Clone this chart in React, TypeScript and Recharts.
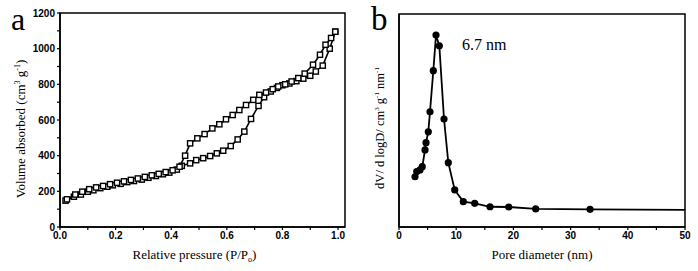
import React from "react";
import {
	LineChart,
	Line,
	XAxis,
	YAxis,
	ReferenceArea,
	Label,
} from "recharts";

// (a) N2 isotherm, adsorption and desorption branches
const adsP = [0.02, 0.05, 0.075, 0.1, 0.12, 0.145, 0.17, 0.19, 0.218, 0.242, 0.266, 0.294, 0.318, 0.345, 0.37, 0.393, 0.42, 0.438, 0.468, 0.49, 0.515, 0.54, 0.564, 0.587, 0.614, 0.639, 0.663, 0.687, 0.714, 0.734, 0.758, 0.78, 0.8, 0.825, 0.85, 0.875, 0.9, 0.92, 0.945, 0.97, 0.99];
const adsV = [148, 170, 182, 198, 206, 218, 226, 234, 242, 252, 258, 266, 276, 286, 296, 305, 322, 343, 357, 375, 386, 398, 413, 428, 454, 491, 535, 606, 679, 728, 760, 780, 795, 805, 818, 832, 848, 872, 905, 1000, 1095];
const desP = [0.99, 0.975, 0.955, 0.935, 0.91, 0.88, 0.857, 0.833, 0.81, 0.785, 0.765, 0.741, 0.717, 0.695, 0.669, 0.645, 0.621, 0.597, 0.573, 0.548, 0.52, 0.494, 0.468, 0.45, 0.43, 0.405, 0.38, 0.355, 0.33, 0.305, 0.28, 0.255, 0.23, 0.205, 0.18, 0.155, 0.13, 0.105, 0.08, 0.055, 0.025];
const desV = [1095, 1060, 1022, 966, 910, 860, 835, 816, 800, 788, 773, 754, 741, 713, 684, 656, 628, 604, 576, 553, 521, 497, 469, 400, 338, 318, 308, 298, 290, 281, 272, 264, 256, 248, 240, 230, 222, 212, 198, 182, 155];

// (b) pore size distribution
const poreD = [2.8, 3.1, 3.67, 4.07, 4.55, 4.72, 5.12, 5.42, 6.0, 6.47, 7.05, 7.87, 8.62, 9.74, 11.24, 13.23, 15.91, 19.18, 23.9, 33.4, 50];
const dvDlogD = [23.6, 26.0, 26.8, 28.3, 36.2, 39.6, 44.7, 54.1, 73.4, 90.1, 85.1, 50.7, 30.2, 17.4, 11.9, 11.1, 9.5, 9.4, 8.5, 8.3, 8.0];

const xTicksA = [0, 0.1, 0.2, 0.3, 0.4, 0.5, 0.6, 0.7, 0.8, 0.9, 1.0];
const xMajorA = [0, 0.2, 0.4, 0.6, 0.8, 1.0];
const yTicksA = [0, 100, 200, 300, 400, 500, 600, 700, 800, 900, 1000, 1100, 1200];
const xTicksB = [0, 5, 10, 15, 20, 25, 30, 35, 40, 45, 50];

const adsData = adsP.map((p, i) => ({ p, v: adsV[i] }));
const desData = desP.map((p, i) => ({ p, v: desV[i] }));
const psdData = poreD.map((d, i) => ({ d, y: dvDlogD[i] }));

const serif = "'Liberation Serif', 'Times New Roman', serif";
const sans = "'Liberation Sans', Arial, sans-serif";
const tickStyle = { fontFamily: sans, fontSize: 10, fontWeight: 700, fill: "#000" };

function SquareDot(props: any) {
	const { cx, cy, index } = props;
	if (cx == null || cy == null) return null;
	return (
		<rect
			key={index}
			x={cx - 2.6}
			y={cy - 2.6}
			width={5.2}
			height={5.2}
			fill="#fff"
			stroke="#000"
			strokeWidth={1.4}
		/>
	);
}

function RoundDot(props: any) {
	const { cx, cy, index, payload } = props;
	// the tail to the right border has no marker
	if (cx == null || cy == null || payload.d >= 50) return <g key={index} />;
	return <circle key={index} cx={cx} cy={cy} r={3.6} fill="#000" />;
}

function XTitleA({ viewBox }: any) {
	const cx = viewBox.x + viewBox.width / 2;
	return (
		<text x={cx - 8} y={259} textAnchor="middle" fontFamily={serif} fontSize={13} fill="#000">
			Relative pressure (P/P
			<tspan fontSize={8} dy={3}>o</tspan>
			<tspan dy={-3}>)</tspan>
		</text>
	);
}

function YTitleA() {
	return (
		<text
			transform="translate(25,129) rotate(-90)"
			textAnchor="middle"
			fontFamily={serif}
			fontSize={13}
			fill="#000"
		>
			Volume absorbed (cm
			<tspan fontSize={8} dy={-5}>3</tspan>
			<tspan dy={5}> g</tspan>
			<tspan fontSize={8} dy={-5}>-1</tspan>
			<tspan dy={5}>)</tspan>
		</text>
	);
}

function YTitleB() {
	return (
		<text
			transform="translate(34,128) rotate(-90)"
			textAnchor="middle"
			fontFamily={serif}
			fontSize={12.5}
			fill="#000"
		>
			dV/ d logD/ cm
			<tspan fontSize={7} dy={-5}>3</tspan>
			<tspan dy={5}> g</tspan>
			<tspan fontSize={7} dy={-5}>-1</tspan>
			<tspan dy={5}> nm</tspan>
			<tspan fontSize={7} dy={-5}>-1</tspan>
		</text>
	);
}

export default function App() {
	return (
		<div style={{ position: "absolute", left: 0, top: 0, width: 698, height: 271, background: "#fff" }}>
			<div style={{ position: "absolute", left: 0, top: 0 }}>
				<LineChart width={355} height={271} margin={{ top: 13, right: 10, bottom: 0, left: 0 }}>
					<XAxis
						type="number"
						dataKey="p"
						domain={[0, 1.025]}
						ticks={xTicksA}
						interval={0}
						tickFormatter={(v: number) => (xMajorA.includes(v) ? v.toFixed(1) : "")}
						tick={tickStyle}
						tickSize={3}
						tickLine={{ stroke: "#000", strokeWidth: 1.2 }}
						axisLine={{ stroke: "#000", strokeWidth: 1.5 }}
						height={44}
						allowDataOverflow
					>
						<Label content={<XTitleA />} />
					</XAxis>
					<YAxis
						type="number"
						domain={[0, 1200]}
						ticks={yTicksA}
						interval={0}
						tickFormatter={(v: number) => (v % 200 === 0 ? String(v) : "")}
						tick={tickStyle}
						tickSize={3}
						tickLine={{ stroke: "#000", strokeWidth: 1.2 }}
						axisLine={{ stroke: "#000", strokeWidth: 1.5 }}
						width={60}
						allowDataOverflow
					>
						<Label content={<YTitleA />} />
					</YAxis>
					<ReferenceArea x1={0} x2={1.025} y1={0} y2={1200} fill="none" stroke="#000" strokeWidth={1.5} ifOverflow="visible" />
					<Line
						data={adsData}
						dataKey="v"
						type="linear"
						stroke="#000"
						strokeWidth={1.6}
						dot={<SquareDot />}
						isAnimationActive={false}
					/>
					<Line
						data={desData}
						dataKey="v"
						type="linear"
						stroke="#000"
						strokeWidth={1.6}
						dot={<SquareDot />}
						isAnimationActive={false}
					/>
				</LineChart>
			</div>
			<div style={{ position: "absolute", left: 350, top: 0 }}>
				<LineChart width={348} height={271} data={psdData} margin={{ top: 14, right: 13, bottom: 0, left: 0 }}>
					<XAxis
						type="number"
						dataKey="d"
						domain={[0, 50]}
						ticks={xTicksB}
						interval={0}
						tickFormatter={(v: number) => (v % 10 === 0 ? String(v) : "")}
						tick={tickStyle}
						tickSize={3}
						tickLine={{ stroke: "#000", strokeWidth: 1.2 }}
						axisLine={{ stroke: "#000", strokeWidth: 1.5 }}
						height={44}
					>
						<Label value="Pore diameter (nm)" position="insideBottom" offset={12} style={{ fontFamily: serif, fontSize: 13, fill: "#000" }} />
					</XAxis>
					<YAxis
						type="number"
						domain={[0, 100]}
						tick={false}
						tickLine={false}
						axisLine={{ stroke: "#000", strokeWidth: 1.5 }}
						width={49}
					>
						<Label content={<YTitleB />} />
					</YAxis>
					<ReferenceArea x1={0} x2={50} y1={0} y2={100} fill="none" stroke="#000" strokeWidth={1.5} ifOverflow="visible" />
					<Line
						dataKey="y"
						type="linear"
						stroke="#000"
						strokeWidth={1.8}
						dot={<RoundDot />}
						isAnimationActive={false}
					/>
				</LineChart>
			</div>
			<div style={{ position: "absolute", left: 11, top: 1, fontFamily: serif, fontSize: 32, lineHeight: "36px", color: "#000" }}>a</div>
			<div style={{ position: "absolute", left: 371, top: 1, fontFamily: serif, fontSize: 33, lineHeight: "36px", color: "#000" }}>b</div>
			<div style={{ position: "absolute", left: 462, top: 36, fontFamily: serif, fontSize: 16, lineHeight: "18px", color: "#000" }}>6.7 nm</div>
		</div>
	);
}
